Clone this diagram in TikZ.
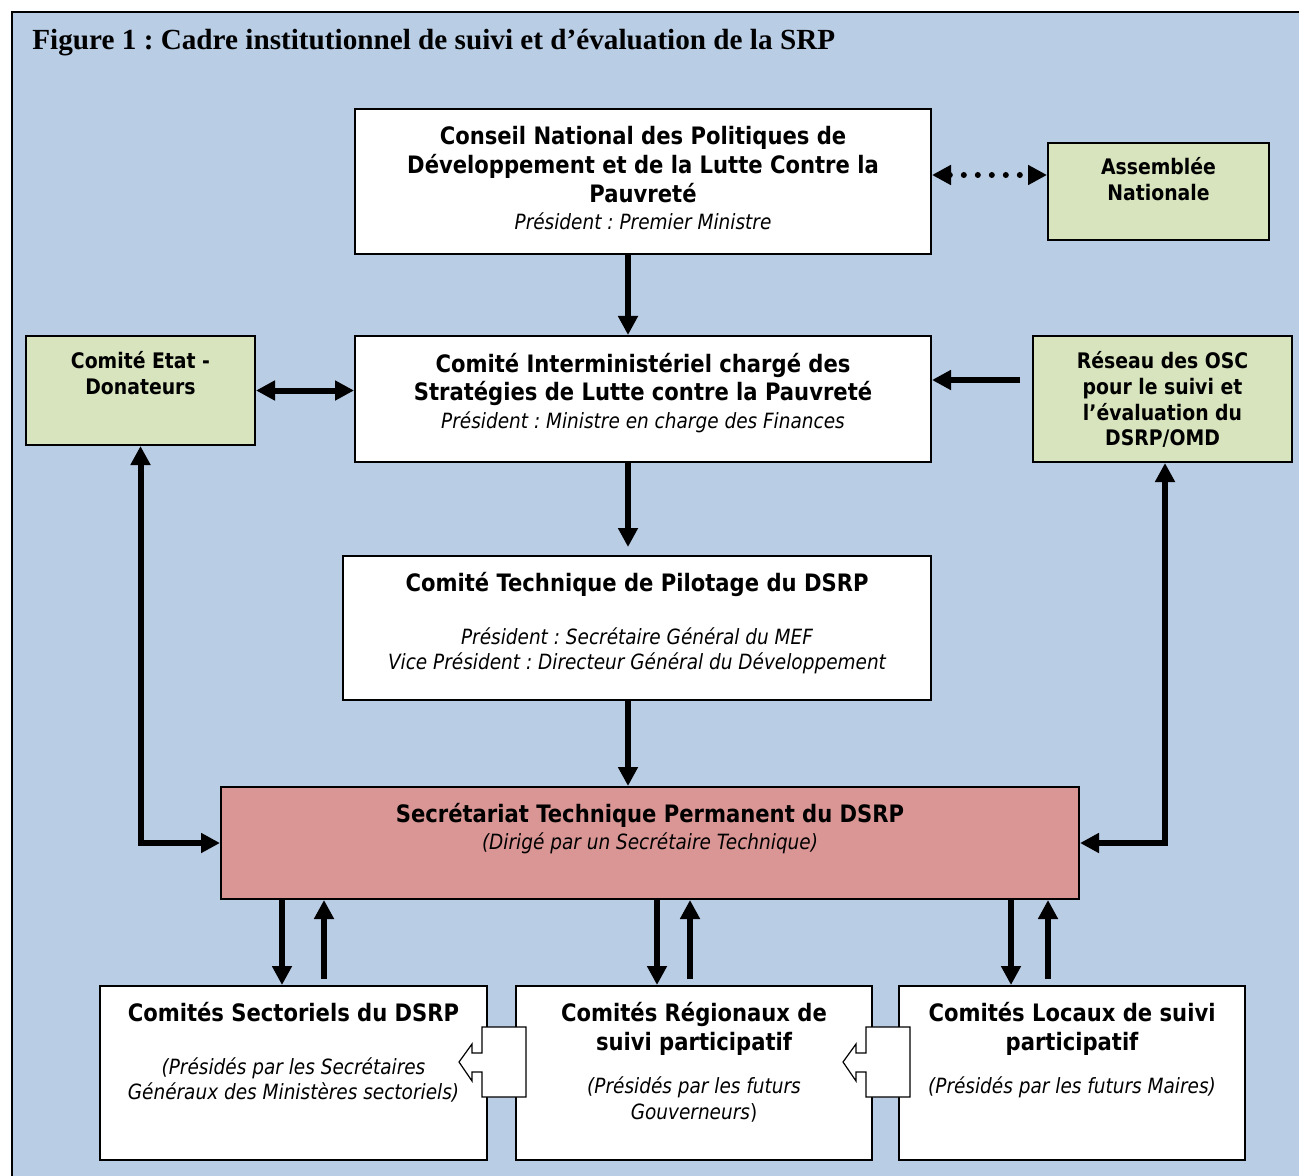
\documentclass[tikz,border=0pt]{standalone}
\usepackage{fontspec}
\setmainfont{DejaVu Sans}[FakeStretch=0.88]
\newfontfamily\titlefont{Liberation Serif}
\usetikzlibrary{arrows.meta,positioning}
\frenchspacing

\definecolor{bgblue}{HTML}{B9CDE5}
\definecolor{boxgreen}{HTML}{D7E4BD}
\definecolor{boxred}{HTML}{D99694}

\newcommand{\chairline}[1]{{\mdseries\itshape\fontsize{10.5}{12.5}\selectfont #1}}

\tikzset{
    box/.style={draw, line width=1pt, inner sep=0pt},
    whitebox/.style={box, fill=white},
    greenbox/.style={box, fill=boxgreen},
    redbox/.style={box, fill=boxred},
    boxtext/.style={align=center, inner sep=0pt, font=\bfseries\fontsize{12}{14.5}\selectfont},
    greentext/.style={boxtext, font=\bfseries\fontsize{10.7}{12.9}\selectfont},
    arr/.style={line width=3pt, -{Triangle[length=9.5pt,width=9.5pt]}},
    dblarr/.style={line width=3pt, {Triangle[length=9.5pt,width=9.5pt]}-{Triangle[length=9.5pt,width=9.5pt]}},
    dotarr/.style={dblarr, line cap=round, dash pattern=on 0pt off 7pt}
}

\begin{document}
\begin{tikzpicture}[x=0.5pt, y=-0.5pt]

\useasboundingbox (0,0) rectangle (1299,1176);
\draw[line width=1pt, fill=bgblue] (12,12) rectangle (1330,1200);

\node[anchor=base west, inner sep=0pt, font=\titlefont\bfseries\fontsize{14.6}{17}\selectfont] (title) at (32,50)
    {Figure 1 : Cadre institutionnel de suivi et d’évaluation de la SRP};

% boxes
\node[whitebox, minimum width=288pt, minimum height=72.5pt] (conseil) at (643,181.5) {};
\node[greenbox, minimum width=110.5pt, minimum height=48.5pt] (assemblee) at (1158.5,191.5) {};
\node[greenbox, minimum width=114.5pt, minimum height=54.5pt] (etat) at (140.5,390.5) {};
\node[whitebox, minimum width=288pt, minimum height=63pt] (inter) at (643,399) {};
\node[greenbox, minimum width=129.5pt, minimum height=63pt] (reseau) at (1162.5,399) {};
\node[whitebox, minimum width=294pt, minimum height=72pt] (technique) at (637,628) {};
\node[redbox, minimum width=429pt, minimum height=56pt] (secretariat) at (650,843) {};
\node[whitebox, minimum width=193.5pt, minimum height=87pt] (sectoriels) at (293.5,1073) {};
\node[whitebox, minimum width=178pt, minimum height=87pt] (regionaux) at (694,1073) {};
\node[whitebox, minimum width=173pt, minimum height=87pt] (locaux) at (1072,1073) {};

% texts
\node[boxtext, below=9pt of conseil.north] (conseil-t)
    {Conseil National des Politiques de\\Développement et de la Lutte Contre la\\Pauvreté\\[-1pt]
     \chairline{Président : Premier Ministre}};
\node[greentext, below=7.5pt of assemblee.north] (assemblee-t) {Assemblée\\Nationale};
\node[greentext, below=8pt of etat.north] (etat-t) {Comité Etat -\\Donateurs};
\node[boxtext, below=9pt of inter.north] (inter-t)
    {Comité Interministériel chargé des\\[-0.5pt]Stratégies de Lutte contre la Pauvreté\\[-0.5pt]
     \chairline{Président : Ministre en charge des Finances}};
\node[greentext, below=8pt of reseau.north] (reseau-t)
    {Réseau des OSC\\pour le suivi et\\l’évaluation du\\DSRP/OMD};
\node[boxtext, below=8.5pt of technique.north] (technique-t)
    {Comité Technique de Pilotage du DSRP\\[12pt]
     \chairline{Président : Secrétaire Général du MEF}\\[-2pt]
     \chairline{Vice Président : Directeur Général du Développement}};
\node[boxtext, below=8.5pt of secretariat.north] (secretariat-t)
    {Secrétariat Technique Permanent du DSRP\\[-1pt]
     \chairline{(Dirigé par un Secrétaire Technique)}};
\node[boxtext, below=8.5pt of sectoriels.north] (sectoriels-t)
    {Comités Sectoriels du DSRP\\[12pt]
     \chairline{(Présidés par les Secrétaires}\\[-2pt]
     \chairline{Généraux des Ministères sectoriels)}};
\node[boxtext, below=8.5pt of regionaux.north] (regionaux-t)
    {Comités Régionaux de\\suivi participatif\\[7pt]
     \chairline{(Présidés par les futurs}\\[-1.5pt]
     {\mdseries\fontsize{10.5}{12.5}\selectfont\textit{Gouverneurs})}};
\node[boxtext, below=8.5pt of locaux.north] (locaux-t)
    {Comités Locaux de suivi\\participatif\\[7pt]
     \chairline{(Présidés par les futurs Maires)}};

% hollow arrows between the bottom boxes
\foreach \dx in {0,384} {
    \draw[fill=white, line width=0.6pt, shift={(\dx,0)}] (526,1027) -- (482,1027) -- (482,1053) -- (472,1053)
        -- (472,1044) -- (459,1062) -- (472,1081) -- (472,1072) -- (482,1072) -- (482,1097) -- (526,1097) -- cycle;
}

% connectors
\coordinate (mid) at (628,0);
\coordinate (dotline) at (0,175);
\coordinate (osc) at (1020,380);

\draw[arr] (conseil.south -| mid) -- (inter.north -| mid);
\draw[arr, shorten >=4pt] (inter.south -| mid) -- (technique.north -| mid);
\draw[arr] (technique.south -| mid) -- (secretariat.north -| mid);
\draw[dotarr] (conseil.east |- dotline) -- (assemblee.west |- dotline);
\draw[dblarr] (etat.east) -- (inter.west |- etat.east);
\draw[arr] (osc) -- (inter.east |- osc);
\draw[dblarr] (etat.south) |- (secretariat.west);
\draw[dblarr] ([xshift=1.25pt]reseau.south) |- (secretariat.east);

\foreach \b/\dn/\up in {sectoriels/282/324, regionaux/657/690, locaux/1011/1048} {
    \draw[arr] (secretariat.south -| \dn,0) -- (\b.north -| \dn,0);
    \draw[arr, shorten <=3pt] (\b.north -| \up,0) -- (secretariat.south -| \up,0);
}

\end{tikzpicture}
\end{document}
